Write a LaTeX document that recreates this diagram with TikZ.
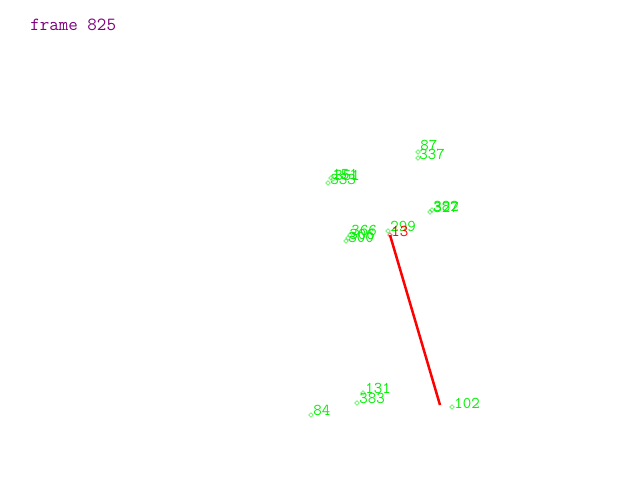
\documentclass[tikz,border=0pt]{standalone}
\usepackage{xcolor}
\usepackage{tikz}
\usetikzlibrary{shapes.geometric}
\definecolor{ptgreen}{RGB}{0,240,0}
\definecolor{ptred}{RGB}{255,0,0}
\definecolor{framepurple}{RGB}{128,0,128}

\begin{document}
\begin{tikzpicture}[x=1pt,y=-1pt,semithick]
\tikzstyle{every node}=[font=\ttfamily]
\tikzstyle{dot}=[diamond,draw=ptgreen,thin,inner sep=0pt,minimum size=5pt]
\tikzstyle{tag}=[anchor=base west,inner sep=0pt,text=ptgreen,font=\ttfamily\fontsize{16.5}{17}\selectfont]

\useasboundingbox[fill=white] (0,0) rectangle (640,480);

\node[anchor=base west,inner sep=0pt,text=framepurple,font=\ttfamily\fontsize{18.5}{19}\selectfont] (title) at (30,30) {frame 825};

% upper group
\node[dot] (p87) at (418,152) {};
\node[tag] at ([shift={(2,-2)}]p87) {87};
\node[dot] (p337) at (418,158) {};
\node[tag] at ([shift={(1,1)}]p337) {337};

\node[dot] (p151) at (331,178) {};
\node[tag] at ([shift={(1,1)}]p151) {151};
\node[dot] (p351) at (333,179) {};
\node[tag] at ([shift={(1,1)}]p351) {351};
\node[dot] (p333) at (328,183) {};
\node[tag] at ([shift={(2,1)}]p333) {333};

\node[dot] (p382) at (432,210) {};
\node[tag] at ([shift={(1,1)}]p382) {382};
\node[dot] (p327) at (430,212) {};
\node[tag] at ([shift={(3,0)}]p327) {327};

% middle group
\node[dot] (p366) at (350,235) {};
\node[tag] at ([shift={(1,0)}]p366) {366};
\node[dot] (p306) at (348,238) {};
\node[tag] at ([shift={(1,1)}]p306) {306};
\node[dot] (p300) at (346,241) {};
\node[tag] at ([shift={(2,1)}]p300) {300};

\node[dot] (p299) at (388,231) {};
\node[tag] at ([shift={(2,0)}]p299) {299};
\node[dot,draw=ptred] (p13) at (390,235) {};
\node[tag,text=ptred] at ([shift={(1,1)}]p13) {13};

% lower group
\node[dot] (p131) at (363,393) {};
\node[tag] at ([shift={(2,0)}]p131) {131};
\node[dot] (p383) at (357,403) {};
\node[tag] at ([shift={(2,0)}]p383) {383};
\node[dot] (p84) at (311,415) {};
\node[tag] at ([shift={(2,0)}]p84) {84};
\node[dot] (p102) at (452,407) {};
\node[tag] at ([shift={(2,1)}]p102) {102};

\coordinate (tip) at (440,405);
\draw[ptred,line width=2.5pt] (p13.center) -- (tip);
\end{tikzpicture}
\end{document}
